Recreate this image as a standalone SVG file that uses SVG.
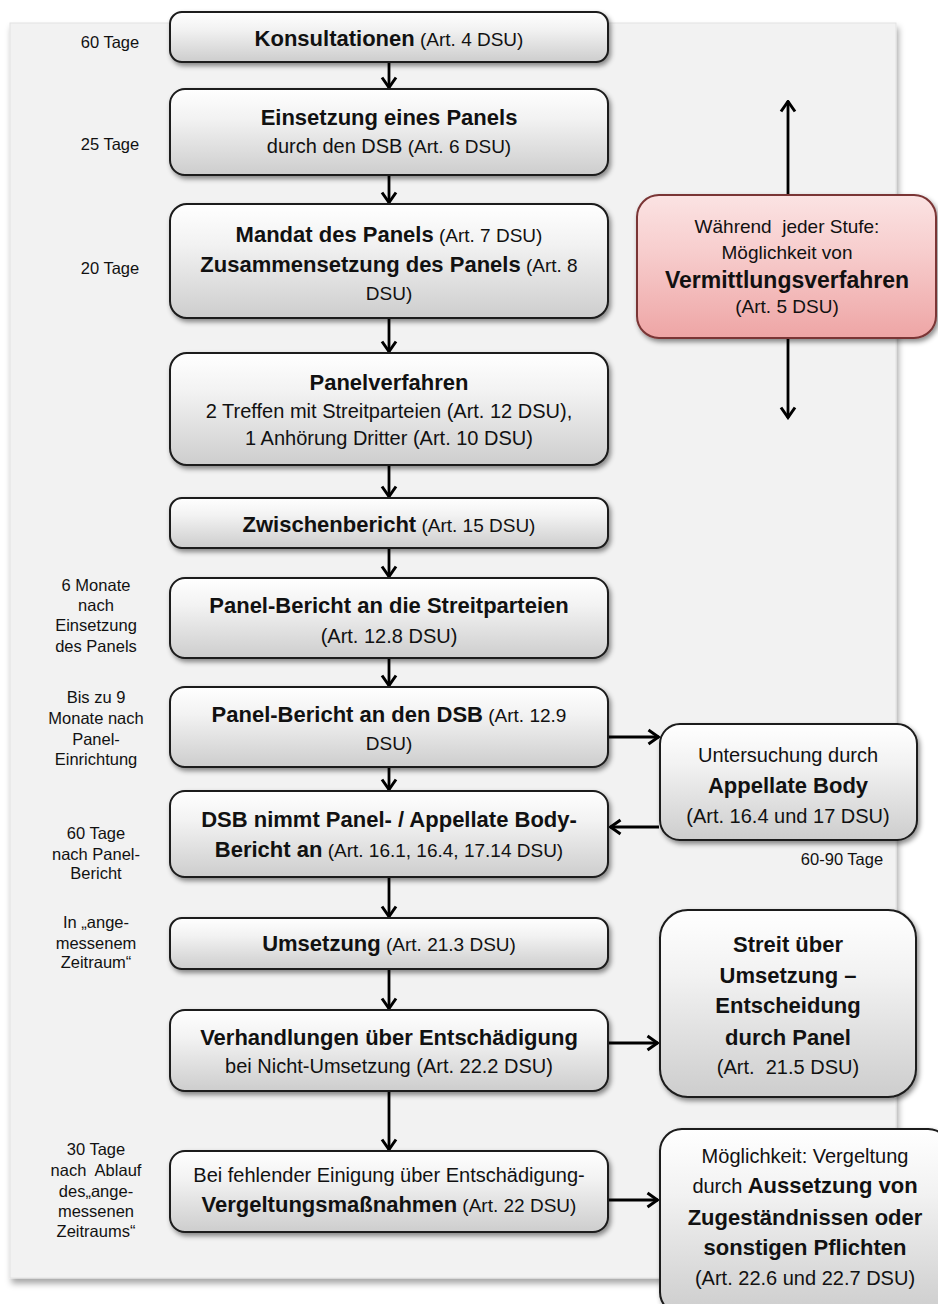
<svg xmlns="http://www.w3.org/2000/svg" width="938" height="1304" viewBox="0 0 938 1304">
<defs>
<linearGradient id="g" x1="0" y1="0" x2="0" y2="1">
<stop offset="0" stop-color="#ffffff"/>
<stop offset="0.35" stop-color="#f2f2f2"/>
<stop offset="1" stop-color="#cdcdcd"/>
</linearGradient>
<linearGradient id="p" x1="0" y1="0" x2="0" y2="1">
<stop offset="0" stop-color="#fbe3e3"/>
<stop offset="0.4" stop-color="#f7cdcd"/>
<stop offset="1" stop-color="#eea5a5"/>
</linearGradient>
<filter id="sh" x="-10%" y="-10%" width="125%" height="130%">
<feDropShadow dx="2" dy="3" stdDeviation="2.5" flood-color="#000" flood-opacity="0.45"/>
</filter>
<filter id="bgsh" x="-5%" y="-5%" width="110%" height="110%">
<feDropShadow dx="2" dy="5" stdDeviation="3" flood-color="#000" flood-opacity="0.35"/>
</filter>
<marker id="ah" viewBox="0 0 14 18" refX="12.5" refY="9" markerWidth="14" markerHeight="18" markerUnits="userSpaceOnUse" orient="auto">
<path d="M2,2 L12,9 L2,16" fill="none" stroke="#000" stroke-width="3"/>
</marker>
</defs>
<style>
.box{fill:url(#g);stroke:#1a1a1a;stroke-width:2;filter:url(#sh)}
.pink{fill:url(#p);stroke:#7a3535;stroke-width:2;filter:url(#sh)}
text{font-family:"Liberation Sans",Arial,sans-serif;fill:#111;text-anchor:middle}
.b{font-weight:bold;font-size:22px}
.bb{font-weight:bold;font-size:23px}
.r{font-size:20px}
.s{font-size:19px}
.lbl{font-size:16.5px;fill:#111}
.conn line{stroke:#000;stroke-width:2.8;fill:none;marker-end:url(#ah)}
</style>

<rect x="10" y="23" width="886" height="1255" fill="#f2f2f2" stroke="#e2e2e2" stroke-width="1" filter="url(#bgsh)"/>

<g id="labels">
<text class="lbl" x="110" y="48">60 Tage</text>
<text class="lbl" x="110" y="150">25 Tage</text>
<text class="lbl" x="110" y="274">20 Tage</text>
<text class="lbl" x="96" y="591">6 Monate</text>
<text class="lbl" x="96" y="611">nach</text>
<text class="lbl" x="96" y="631">Einsetzung</text>
<text class="lbl" x="96" y="652">des Panels</text>
<text class="lbl" x="96" y="703">Bis zu 9</text>
<text class="lbl" x="96" y="724">Monate nach</text>
<text class="lbl" x="96" y="745">Panel-</text>
<text class="lbl" x="96" y="765">Einrichtung</text>
<text class="lbl" x="96" y="839">60 Tage</text>
<text class="lbl" x="96" y="860">nach Panel-</text>
<text class="lbl" x="96" y="879">Bericht</text>
<text class="lbl" x="96" y="928">In „ange-</text>
<text class="lbl" x="96" y="949">messenem</text>
<text class="lbl" x="96" y="968">Zeitraum“</text>
<text class="lbl" x="96" y="1155">30 Tage</text>
<text class="lbl" x="96" y="1176" xml:space="preserve">nach  Ablauf</text>
<text class="lbl" x="96" y="1197">des„ange-</text>
<text class="lbl" x="96" y="1217">messenen</text>
<text class="lbl" x="96" y="1237">Zeitraums“</text>
<text class="lbl" x="842" y="865">60-90 Tage</text>
</g>

<g class="conn" id="connectors">
<line x1="389" y1="63" x2="389" y2="88"/>
<line x1="389" y1="176" x2="389" y2="203"/>
<line x1="389" y1="319" x2="389" y2="352"/>
<line x1="389" y1="466" x2="389" y2="497"/>
<line x1="389" y1="549" x2="389" y2="577"/>
<line x1="389" y1="659" x2="389" y2="686"/>
<line x1="389" y1="768" x2="389" y2="790"/>
<line x1="389" y1="878" x2="389" y2="917"/>
<line x1="389" y1="970" x2="389" y2="1009"/>
<line x1="389" y1="1092" x2="389" y2="1150"/>
<line x1="788" y1="195" x2="788" y2="101"/>
<line x1="788" y1="339" x2="788" y2="418"/>
<line x1="609" y1="737" x2="659" y2="737"/>
<line x1="659" y1="827" x2="610" y2="827"/>
<line x1="609" y1="1043" x2="658" y2="1043"/>
<line x1="609" y1="1200" x2="658" y2="1200"/>
</g>

<g id="n1">
<rect class="box" x="170" y="12" width="438" height="50" rx="12"/>
<text x="389" y="46"><tspan class="b">Konsultationen</tspan><tspan class="s"> (Art. 4 DSU)</tspan></text>
</g>
<g id="n2">
<rect class="box" x="170" y="89" width="438" height="86" rx="15"/>
<text class="b" x="389" y="125">Einsetzung eines Panels</text>
<text x="389" y="153"><tspan class="r">durch den DSB</tspan><tspan class="s"> (Art. 6 DSU)</tspan></text>
</g>
<g id="n3">
<rect class="box" x="170" y="204" width="438" height="114" rx="17"/>
<text x="389" y="242"><tspan class="b">Mandat des Panels</tspan><tspan class="s"> (Art. 7 DSU)</tspan></text>
<text x="389" y="272"><tspan class="b">Zusammensetzung des Panels</tspan><tspan class="s"> (Art. 8</tspan></text>
<text class="s" x="389" y="300">DSU)</text>
</g>
<g id="n4">
<rect class="box" x="170" y="353" width="438" height="112" rx="17"/>
<text class="b" x="389" y="390">Panelverfahren</text>
<text class="r" x="389" y="418">2 Treffen mit Streitparteien (Art. 12 DSU),</text>
<text class="r" x="389" y="445">1 Anhörung Dritter (Art. 10 DSU)</text>
</g>
<g id="n5">
<rect class="box" x="170" y="498" width="438" height="50" rx="12"/>
<text x="389" y="532"><tspan class="b">Zwischenbericht</tspan><tspan class="s"> (Art. 15 DSU)</tspan></text>
</g>
<g id="n6">
<rect class="box" x="170" y="578" width="438" height="80" rx="15"/>
<text class="b" x="389" y="613">Panel-Bericht an die Streitparteien</text>
<text class="r" x="389" y="643">(Art. 12.8 DSU)</text>
</g>
<g id="n7">
<rect class="box" x="170" y="687" width="438" height="80" rx="15"/>
<text x="389" y="722"><tspan class="b">Panel-Bericht an den DSB</tspan><tspan class="s"> (Art. 12.9</tspan></text>
<text class="s" x="389" y="750">DSU)</text>
</g>
<g id="n8">
<rect class="box" x="170" y="791" width="438" height="86" rx="15"/>
<text class="b" x="389" y="827">DSB nimmt Panel- / Appellate Body-</text>
<text x="389" y="857"><tspan class="b">Bericht an</tspan><tspan class="s"> (Art. 16.1, 16.4, 17.14 DSU)</tspan></text>
</g>
<g id="n9">
<rect class="box" x="170" y="918" width="438" height="51" rx="12"/>
<text x="389" y="951"><tspan class="b">Umsetzung</tspan><tspan class="s"> (Art. 21.3 DSU)</tspan></text>
</g>
<g id="n10">
<rect class="box" x="170" y="1010" width="438" height="81" rx="15"/>
<text class="b" x="389" y="1045">Verhandlungen über Entschädigung</text>
<text class="r" x="389" y="1073">bei Nicht-Umsetzung (Art. 22.2 DSU)</text>
</g>
<g id="n11">
<rect class="box" x="170" y="1151" width="438" height="81" rx="15"/>
<text class="r" x="389" y="1182">Bei fehlender Einigung über Entschädigung-</text>
<text x="389" y="1212"><tspan class="b">Vergeltungsmaßnahmen</tspan><tspan class="s"> (Art. 22 DSU)</tspan></text>
</g>

<g id="mediation">
<rect class="pink" x="637" y="195" width="299" height="143" rx="22"/>
<text class="s" x="787" y="233" xml:space="preserve">Während  jeder Stufe:</text>
<text class="s" x="787" y="259">Möglichkeit von</text>
<text class="bb" x="787" y="288">Vermittlungsverfahren</text>
<text class="s" x="787" y="313">(Art. 5 DSU)</text>
</g>
<g id="appellate">
<rect class="box" x="660" y="724" width="257" height="116" rx="20"/>
<text class="r" x="788" y="762">Untersuchung durch</text>
<text class="b" x="788" y="793">Appellate Body</text>
<text class="r" x="788" y="823">(Art. 16.4 und 17 DSU)</text>
</g>
<g id="streit">
<rect class="box" x="660" y="910" width="256" height="187" rx="28"/>
<text class="b" x="788" y="952">Streit über</text>
<text class="b" x="788" y="983">Umsetzung –</text>
<text class="b" x="788" y="1013">Entscheidung</text>
<text class="b" x="788" y="1045">durch Panel</text>
<text class="r" x="788" y="1074" xml:space="preserve">(Art.  21.5 DSU)</text>
</g>
<g id="vergeltung">
<rect class="box" x="660" y="1129" width="290" height="185" rx="22"/>
<text class="r" x="805" y="1163">Möglichkeit: Vergeltung</text>
<text x="805" y="1193"><tspan class="r">durch</tspan><tspan class="b"> Aussetzung von</tspan></text>
<text class="b" x="805" y="1225">Zugeständnissen oder</text>
<text class="b" x="805" y="1255">sonstigen Pflichten</text>
<text class="r" x="805" y="1285">(Art. 22.6 und 22.7 DSU)</text>
</g>
</svg>
